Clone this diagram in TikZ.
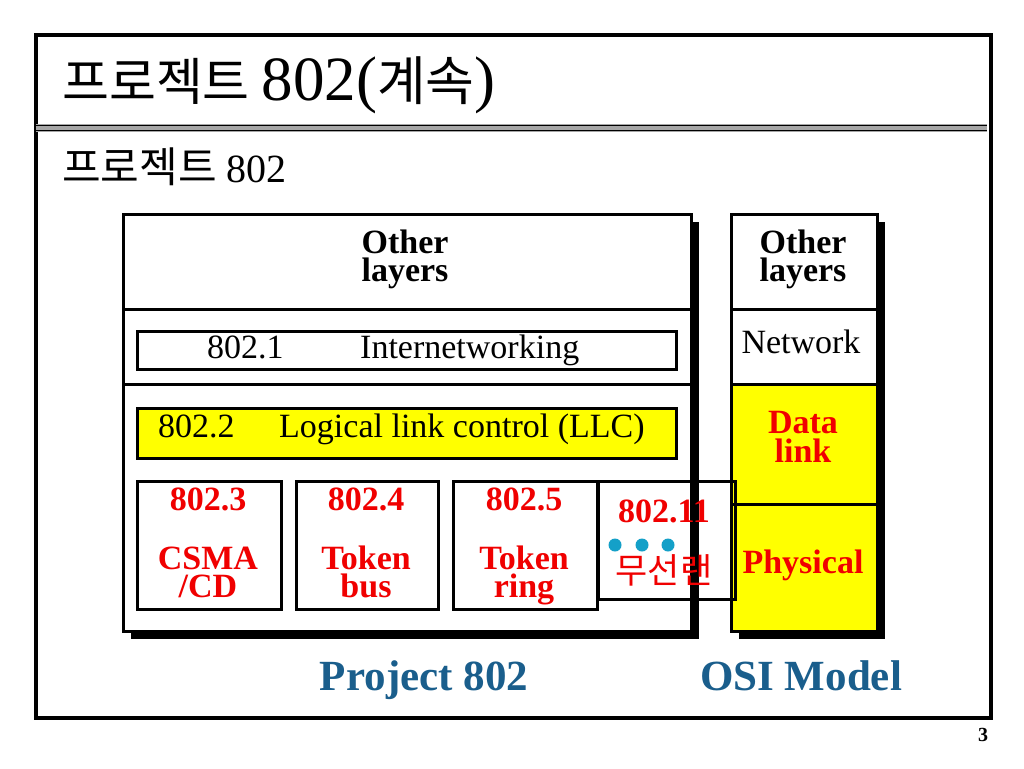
\documentclass[tikz,border=0pt]{standalone}
\usepackage{fontspec}
\setmainfont{Liberation Serif}
\newfontfamily\cjk{Noto Sans CJK KR}
\usetikzlibrary{shadows}
\definecolor{ylw}{RGB}{255,255,0}
\definecolor{txtred}{RGB}{240,0,0}
\definecolor{pblue}{RGB}{26,94,140}
\definecolor{dotc}{RGB}{20,160,200}
\begin{document}
\begin{tikzpicture}[x=1pt,y=-1pt,
  box/.style={draw,line width=3pt,inner sep=0pt,anchor=north west},
  sub/.style={draw,line width=2.5pt,inner sep=0pt,anchor=north west},
  shd/.style={drop shadow={shadow xshift=7pt,shadow yshift=-7pt,opacity=1,fill=black}},
  lbl/.style={inner sep=0pt,anchor=base},
  body/.style={font=\fontsize{34}{34}\selectfont},
  bbody/.style={font=\fontsize{34}{34}\selectfont\bfseries},
  redb/.style={lbl,bbody,text=txtred},
  dot/.style={circle,fill=dotc,minimum size=13pt,inner sep=0pt}
]
\useasboundingbox (0,0) rectangle (1024,768);
\fill[white] (0,0) rectangle (1024,768);
% frame
\node[draw,line width=4pt,anchor=north west,minimum width=955pt,minimum height=683pt,inner sep=0pt] (frame) at (34,33) {};
\coordinate (sepL) at (36,128);
\coordinate (sepR) at (987,128);
\draw[black!35,line width=8pt] (sepL) -- (sepR);
\draw[black,line width=1.6pt,transform canvas={yshift=2.6pt}] (sepL) -- (sepR);
\draw[black,line width=1.6pt,transform canvas={yshift=-2.6pt}] (sepL) -- (sepR);
% title
\node[lbl,anchor=base west] (title) at (62,100) {\fontsize{63}{63}\selectfont{\cjk\fontsize{51}{51}\selectfont 프로젝트}\hspace{-4pt} 802({\cjk\fontsize{53}{53}\selectfont 계속})};
\node[lbl,anchor=base west] (subtitle) at (62,182) {\fontsize{40}{40}\selectfont{\cjk\fontsize{42}{42}\selectfont 프로젝트} 802};
% Project 802 block
\node[box,fill=white,shd,minimum width=568pt,minimum height=417pt] (P) at (122,213) {};
\node[box,minimum width=568pt,minimum height=95pt] (pOther) at (122,213) {};
\node[box,minimum width=568pt,minimum height=75pt] (pNet) at (122,308) {};
\node[sub,fill=white,minimum width=539pt,minimum height=38pt] (b1) at (136,330) {};
\node[sub,fill=ylw,minimum width=539pt,minimum height=50pt] (b2) at (136,407) {};
\node[sub,minimum width=144pt,minimum height=128pt] (b3) at (136,480) {};
\node[sub,minimum width=142pt,minimum height=128pt] (b4) at (295,480) {};
\node[sub,minimum width=144pt,minimum height=128pt] (b5) at (452,480) {};
% OSI block
\node[box,fill=white,shd,minimum width=146pt,minimum height=417pt] (O) at (730,213) {};
\node[box,fill=white,minimum width=146pt,minimum height=95pt] (oOther) at (730,213) {};
\node[box,fill=white,minimum width=146pt,minimum height=75pt] (oNet) at (730,308) {};
\node[box,fill=ylw,minimum width=146pt,minimum height=120pt] (oDL) at (730,383) {};
\node[box,fill=ylw,minimum width=146pt,minimum height=127pt] (oPhy) at (730,503) {};
\node[sub,minimum width=137pt,minimum height=118pt] (b11) at (597,480) {};
% texts project 802
\node[lbl,bbody] (pO1) at (405,253) {Other};
\node[lbl,bbody] (pO2) at (405,281) {layers};
\node[lbl,body,anchor=base west] (t1a) at (207,358) {802.1};
\node[lbl,body,anchor=base west] (t1b) at (360,358) {Internetworking};
\node[lbl,body,anchor=base west] (t2a) at (158,437) {802.2};
\node[lbl,body,anchor=base west] (t2b) at (279,437) {Logical link control (LLC)};
\node[redb] (t3a) at (208,510) {802.3};
\node[redb] (t3b) at (208,569) {CSMA};
\node[redb] (t3c) at (208,597) {/CD};
\node[redb] (t4a) at (366,510) {802.4};
\node[redb] (t4b) at (366,569) {Token};
\node[redb] (t4c) at (366,597) {bus};
\node[redb] (t5a) at (524,510) {802.5};
\node[redb] (t5b) at (524,569) {Token};
\node[redb] (t5c) at (524,597) {ring};
\node[redb] (t11a) at (664,522) {802.11};
\node[dot] (d1) at (615,545) {};
\node[dot] (d2) at (642,545) {};
\node[dot] (d3) at (668,545) {};
\node[lbl,text=txtred] (t11b) at (664,583) {\cjk\fontsize{35}{35}\selectfont 무선랜};
% texts OSI
\node[lbl,bbody] (oO1) at (803,253) {Other};
\node[lbl,bbody] (oO2) at (803,281) {layers};
\node[lbl,body] (oN) at (801,353) {Network};
\node[redb] (oD1) at (803,433) {Data};
\node[redb] (oD2) at (803,462) {link};
\node[redb] (oP) at (803,573) {Physical};
% captions
\node[lbl,text=pblue,font=\fontsize{43}{43}\selectfont\bfseries] (capP) at (424,690) {Project 802};
\node[lbl,text=pblue,font=\fontsize{43}{43}\selectfont\bfseries] (capO) at (801,690) {OSI Model};
\node[lbl,font=\fontsize{20}{20}\selectfont\bfseries] (pg) at (983,741) {3};
\end{tikzpicture}
\end{document}
